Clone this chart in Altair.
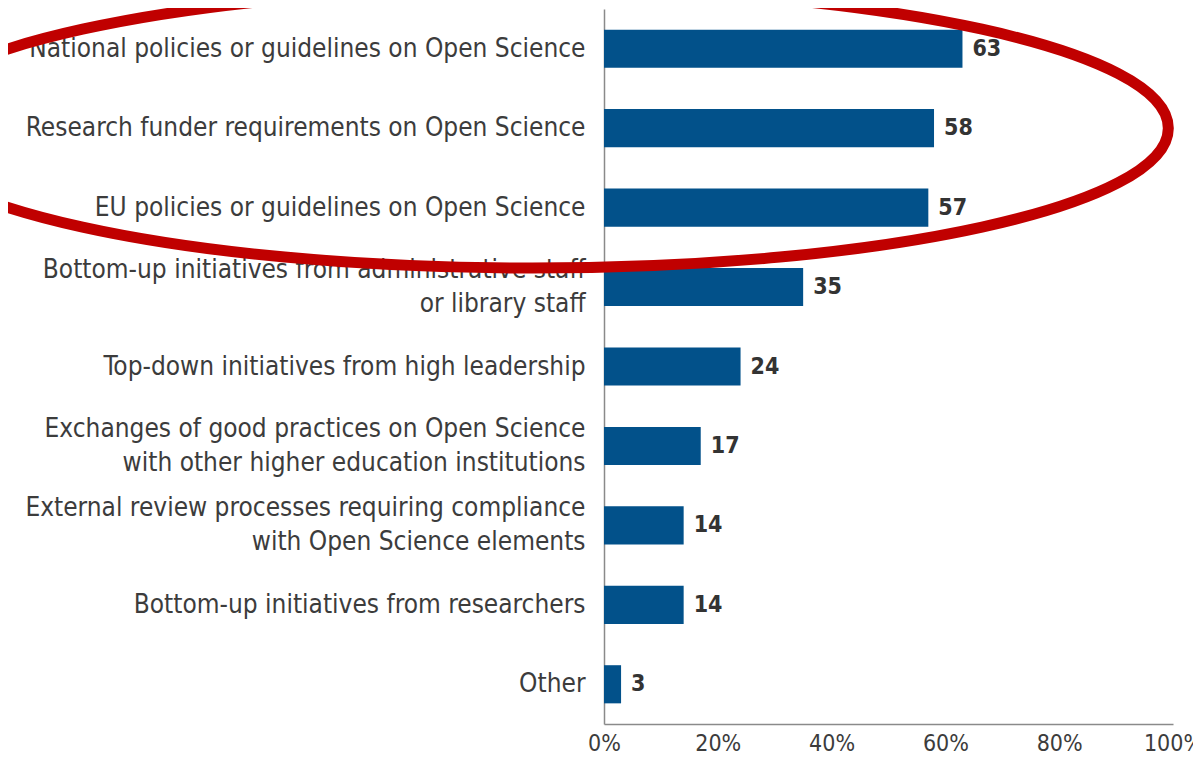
import altair as alt
import pandas as pd

categories = [
    "National policies or guidelines on Open Science",
    "Research funder requirements on Open Science",
    "EU policies or guidelines on Open Science",
    "Bottom-up initiatives from administrative staff\nor library staff",
    "Top-down initiatives from high leadership",
    "Exchanges of good practices on Open Science\nwith other higher education institutions",
    "External review processes requiring compliance\nwith Open Science elements",
    "Bottom-up initiatives from researchers",
    "Other",
]
values = [63, 58, 57, 35, 24, 17, 14, 14, 3]
x_ticks = [0, 20, 40, 60, 80, 100]

# annotation ellipse (centre in data units)
ellipse_x = [-12.6]
ellipse_row = ["Research funder requirements on Open Science"]

FONT = "DejaVu Sans Condensed"
BAR = "#02518a"
TEXT = "#3c3c3c"

df = pd.DataFrame({"cat": categories, "val": values})
edf = pd.DataFrame({"x": ellipse_x, "cat": ellipse_row})

yscale = alt.Scale(domain=categories, paddingInner=0.52, paddingOuter=0.26)
xscale = alt.Scale(domain=[0, 100], nice=False)

y = alt.Y(
    "cat:N",
    scale=yscale,
    sort=categories,
    axis=alt.Axis(
        title=None,
        ticks=False,
        domain=True,
        domainColor="#8a8a8a",
        domainWidth=1.5,
        labelFont=FONT,
        labelFontSize=26,
        labelColor=TEXT,
        labelPadding=19,
        labelLimit=700,
        labelLineHeight=34,
        labelOffset={"condition": {"test": "indexof(datum.value, '\\n') >= 0", "value": -17}, "value": 0},
        labelExpr="split(datum.value, '\\n')",
    ),
)
x = alt.X(
    "val:Q",
    scale=xscale,
    axis=alt.Axis(
        title=None,
        values=x_ticks,
        labelExpr="datum.value + '%'",
        ticks=False,
        grid=False,
        domainColor="#8a8a8a",
        domainWidth=1.5,
        labelFont=FONT,
        labelFontSize=23,
        labelColor=TEXT,
        labelPadding=8,
        labelFlush=False,
    ),
)

bars = alt.Chart(df).mark_bar(color=BAR).encode(x=x, y=y)
labels = alt.Chart(df).mark_text(
    align="left", baseline="middle", dx=10, font=FONT, fontSize=23,
    fontWeight="bold", color="#333333",
).encode(x="val:Q", y=alt.Y("cat:N", sort=categories), text="val:Q")

b = 0.22
k = 0.5523
path = (
    f"M -1 0 C -1 {-k*b:.4f} {-k:.4f} {-b} 0 {-b} "
    f"C {k:.4f} {-b} 1 {-k*b:.4f} 1 0 "
    f"C 1 {k*b:.4f} {k:.4f} {b} 0 {b} "
    f"C {-k:.4f} {b} -1 {k*b:.4f} -1 0 Z"
)
ellipse = alt.Chart(edf).mark_point(
    shape=path, filled=False, stroke="#c00000", strokeWidth=11, opacity=1,
).encode(
    x=alt.X("x:Q"),
    y=alt.Y("cat:N", sort=categories),
    size=alt.value(1272 * 1272),
)

chart = alt.layer(bars, labels, ellipse).properties(
    width=569,
    height=715,
    background="white",
    autosize=alt.AutoSizeParams(type="none"),
    padding={"left": 596, "top": 1, "right": 20, "bottom": 34},
).configure_view(strokeWidth=0, stroke=None)

chart.save("out.html", embed_options={"renderer": "svg", "actions": False})
